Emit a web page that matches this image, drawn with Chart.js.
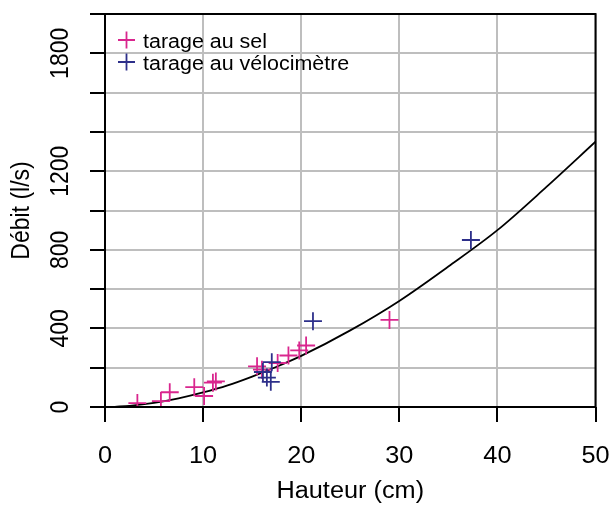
<!DOCTYPE html>
<html>
<head>
<meta charset="utf-8">
<script src="https://cdn.jsdelivr.net/npm/chart.js@4"></script>
<style>
  html, body { margin: 0; padding: 0; background: #fff; }
  #wrap { width: 614px; height: 507px; }
</style>
</head>
<body>
<div id="wrap"><canvas id="c" width="614" height="507"></canvas></div>
<script>
// jaugeage au sel
const selH = [3.3, 5.7, 6.6, 9.1, 10.1, 11.0, 11.3, 15.5, 16.0, 17.6, 18.7, 19.8, 20.5, 29.0];
const selQ = [20, 30, 75, 101, 56, 124, 130, 207, 190, 224, 262, 288, 313, 443];
// jaugeage au vélocimètre
const velH = [16.1, 16.5, 16.9, 17.0, 21.2, 37.3];
const velQ = [178, 150, 128, 228, 437, 850];
// courbe de tarage
const curveH = [1, 2.5, 5, 7.5, 10, 12.5, 15, 17.5, 20, 25, 30, 35, 40, 45, 50];
const curveQ = [1, 6, 21, 44, 74, 110, 155, 205, 260, 390, 540, 715, 900, 1120, 1350];

const xTicks = [0, 10, 20, 30, 40, 50];
const yLabels = [0, 400, 800, 1200, 1800];

const FONT = "'Liberation Sans', Arial, sans-serif";
const PINK = '#D9268E';
const NAVY = '#2D2F8A';
const SX = 1.1; // le texte de l'original est un peu élargi

const toXY = (xs, ys) => xs.map((x, i) => ({ x: x, y: ys[i] }));

function wideText(ctx, txt, x, y) {
  ctx.save();
  ctx.translate(x, y);
  ctx.scale(SX, 1);
  ctx.fillText(txt, 0, 0);
  ctx.restore();
}

function upText(ctx, txt, x, y) {
  ctx.save();
  ctx.translate(x, y);
  ctx.scale(SX, 1);
  ctx.rotate(-Math.PI / 2);
  ctx.fillText(txt, 0, 0);
  ctx.restore();
}

// cadre, étiquettes, titres et légende à la façon de R
const decor = {
  id: 'decor',
  afterDraw(chart) {
    const ctx = chart.ctx;
    const a = chart.chartArea;
    const xs = chart.scales.x;
    const ys = chart.scales.y;
    ctx.save();
    ctx.strokeStyle = '#000';
    ctx.lineWidth = 2;
    ctx.strokeRect(a.left, a.top, a.right - a.left, a.bottom - a.top);

    ctx.fillStyle = '#000';
    ctx.font = '23px ' + FONT;
    ctx.textAlign = 'center';
    ctx.textBaseline = 'alphabetic';
    yLabels.forEach(v => upText(ctx, String(v), 68, ys.getPixelForValue(v)));
    xTicks.forEach(v => wideText(ctx, String(v), xs.getPixelForValue(v), 463));

    upText(ctx, 'Débit (l/s)', 29, (a.top + a.bottom) / 2);
    wideText(ctx, 'Hauteur (cm)', (a.left + a.right) / 2, 498);

    // légende
    const items = chart.data.datasets.filter(d => d.legend);
    ctx.textAlign = 'left';
    ctx.font = '19.5px ' + FONT;
    items.forEach((d, i) => {
      const cy = 40 + i * 22;
      const cx = 126.5;
      ctx.strokeStyle = d.borderColor;
      ctx.lineWidth = 1.8;
      ctx.beginPath();
      ctx.moveTo(cx - 8.5, cy); ctx.lineTo(cx + 8.5, cy);
      ctx.moveTo(cx, cy - 8.5); ctx.lineTo(cx, cy + 8.5);
      ctx.stroke();
      ctx.fillStyle = '#000';
      wideText(ctx, d.label, 143, cy + 8);
    });
    ctx.restore();
  }
};

new Chart(document.getElementById('c'), {
  type: 'scatter',
  data: {
    datasets: [
      {
        label: 'courbe',
        data: toXY(curveH, curveQ),
        showLine: true,
        borderColor: '#000',
        borderWidth: 1.8,
        pointRadius: 0,
        cubicInterpolationMode: 'monotone',
        order: 3
      },
      {
        label: 'tarage au sel',
        legend: true,
        data: toXY(selH, selQ),
        pointStyle: 'cross',
        pointRadius: 9,
        borderColor: PINK,
        borderWidth: 1.8,
        order: 2
      },
      {
        label: 'tarage au vélocimètre',
        legend: true,
        data: toXY(velH, velQ),
        pointStyle: 'cross',
        pointRadius: 9,
        borderColor: NAVY,
        borderWidth: 1.8,
        order: 1
      }
    ]
  },
  options: {
    responsive: false,
    animation: false,
    layout: { padding: { top: 14, right: 18.5, left: 0, bottom: 0 } },
    plugins: { legend: { display: false }, tooltip: { enabled: false } },
    scales: {
      x: {
        type: 'linear',
        min: 0, max: 50,
        afterBuildTicks: s => { s.ticks = xTicks.map(v => ({ value: v })); },
        afterFit: s => { s.height = 100; s.paddingLeft = 0; s.paddingRight = 0; },
        border: { display: false },
        grid: { color: '#BEBEBE', lineWidth: 2, tickColor: '#000', tickWidth: 2, tickLength: 15 },
        ticks: { display: false }
      },
      y: {
        type: 'linear',
        min: 0, max: 2000,
        ticks: { stepSize: 200, display: false },
        afterFit: s => { s.width = 105; s.paddingTop = 0; s.paddingBottom = 0; },
        border: { display: false },
        grid: { color: '#BEBEBE', lineWidth: 2, tickColor: '#000', tickWidth: 2, tickLength: 15 }
      }
    }
  },
  plugins: [decor]
});
</script>
</body>
</html>
